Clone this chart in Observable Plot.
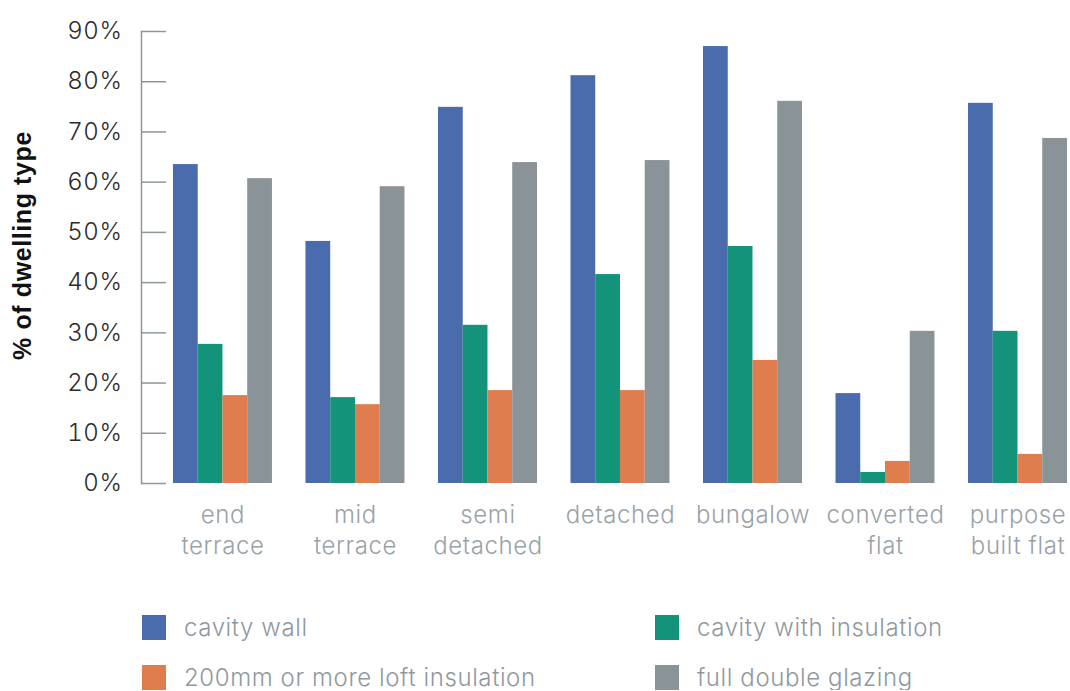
<!DOCTYPE html>
<html><head><meta charset="utf-8">
<script src="https://cdn.jsdelivr.net/npm/d3@7"></script>
<script src="https://cdn.jsdelivr.net/npm/@observablehq/plot@0.6"></script>
<style>
body{margin:0;background:#fff;font-family:Inter, sans-serif;}
#chart{width:1070px;}
#chart svg text{letter-spacing:0.6px;}
.legend{display:grid;grid-template-columns:513px 400px;row-gap:25px;margin-left:142px;margin-top:25px;}
.item{display:flex;align-items:center;height:25px;font-weight:300;font-size:24px;letter-spacing:0.6px;color:#8f989e;white-space:nowrap;}
.sw{width:24px;height:25px;margin-right:18px;flex:none;}
</style></head><body><div id="chart"></div>
<script>
const categories = ["end\nterrace","mid\nterrace","semi\ndetached","detached","bungalow","converted\nflat","purpose\nbuilt flat"];
const series = ["cavity wall","cavity with insulation","200mm or more loft insulation","full double glazing"];
const cavityWall = [63.5,48.2,74.9,81.2,87.0,17.9,75.7];
const cavityInsulation = [27.7,17.1,31.5,41.6,47.2,2.2,30.3];
const loft200 = [17.5,15.7,18.5,18.5,24.5,4.4,5.8];
const doubleGlazing = [60.7,59.1,63.9,64.3,76.1,30.3,68.7];
const colors = ["#4a6bac","#12937a","#df7d4f","#8a9398"];
const yTicks = [0,10,20,30,40,50,60,70,80,90];
const yLabel = "% of dwelling type";

const valueSets = [cavityWall, cavityInsulation, loft200, doubleGlazing];
const data = [];
categories.forEach((c,i) => series.forEach((s,j) => data.push({category:c, series:s, value:valueSets[j][i]})));

const axisGray = "#8c969c";
const plot = Plot.plot({
  width:1070, height:590, marginTop:31, marginBottom:107, marginLeft:141, marginRight:0,
  style:{fontFamily:"Inter, sans-serif", background:"#fff"},
  fx:{domain:categories, paddingInner:0.253, paddingOuter:0.132, align:0.914, round:false, axis:null},
  x:{domain:series, padding:0, round:false, axis:null},
  y:{domain:[0,90], axis:null},
  color:{domain:series, range:colors},
  marks:[
    Plot.barY(data,{fx:"category", x:"series", y:"value", fill:"series"}),
    Plot.frame({anchor:"left", facetAnchor:"left", dx:-32, stroke:axisGray, strokeWidth:1.5}),
    Plot.axisY({ticks:yTicks, anchor:"left", facetAnchor:"left", fill:"none", tickSize:-25, dx:-32, stroke:axisGray, strokeWidth:1.5, label:null}),
    Plot.axisY({ticks:yTicks, anchor:"left", facetAnchor:"left", stroke:"none", tickSize:0, tickPadding:0, dx:-51, tickFormat:d=>d+"%", fill:"#2b2b2b", fontSize:24, fontWeight:300, label:null}),
    Plot.axisFx({anchor:"bottom", tickSize:0, tickPadding:18, fontSize:24, fontWeight:300, fill:"#99a2a8", lineHeight:1.27, label:null}),
    Plot.text([yLabel], {text:d=>d, frameAnchor:"left", facetAnchor:"left", textAnchor:"middle", rotate:-90, dx:-150, dy:-12, fontSize:25, fontWeight:"bold", fontFamily:"Liberation Sans, Arial, sans-serif", fill:"#111"})
  ]
});
const chart = document.getElementById("chart");
chart.appendChild(plot);
const legend = document.createElement("div");
legend.className = "legend";
series.forEach((s,j) => {
  const it = document.createElement("div"); it.className = "item";
  const sw = document.createElement("span"); sw.className = "sw"; sw.style.background = colors[j];
  it.appendChild(sw); it.appendChild(document.createTextNode(s));
  legend.appendChild(it);
});
chart.appendChild(legend);
</script></body></html>
